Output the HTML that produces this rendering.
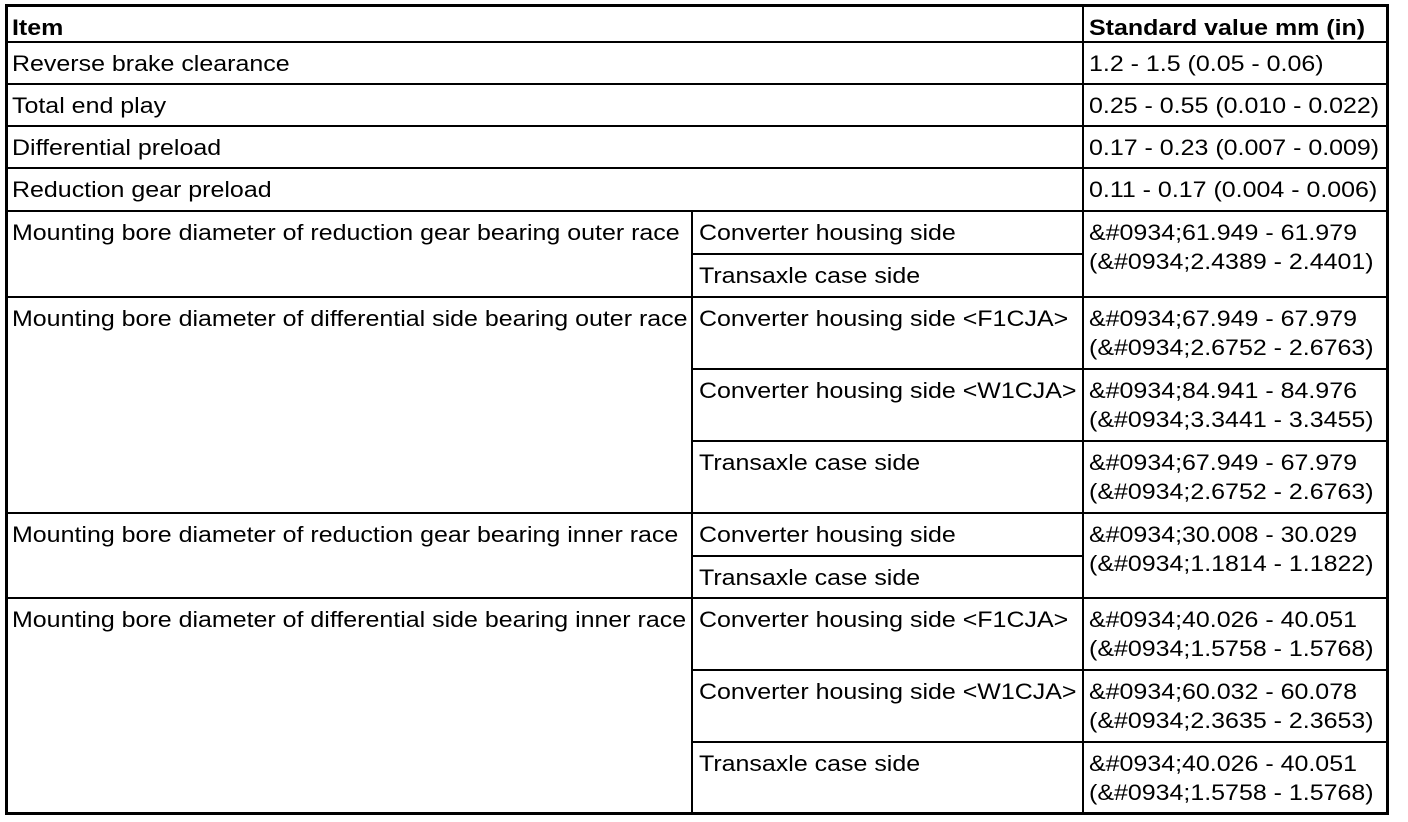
<!DOCTYPE html>
<html><head><meta charset="utf-8"><style>
body{margin:0;width:1408px;height:822px;background:#fff;position:relative;overflow:hidden;font-family:"Liberation Sans",Arial,sans-serif;font-size:22px;color:#000}
.h{position:absolute;height:2px;background:#000}
.v{position:absolute;width:2px;background:#000}
.t{position:absolute;line-height:29px;white-space:nowrap;transform:scaleX(1.135);transform-origin:0 0}
</style></head><body>
<div style="position:absolute;left:5px;top:4px;width:1378px;height:805px;border:3px solid #000"></div>
<div class="v" style="left:1082px;top:4px;height:811px"></div>
<div class="v" style="left:691px;top:211px;height:604px"></div>
<div class="h" style="left:5px;width:1384px;top:41px"></div>
<div class="h" style="left:5px;width:1384px;top:83px"></div>
<div class="h" style="left:5px;width:1384px;top:125px"></div>
<div class="h" style="left:5px;width:1384px;top:167px"></div>
<div class="h" style="left:5px;width:1384px;top:210px"></div>
<div class="h" style="left:691px;width:392px;top:253px"></div>
<div class="h" style="left:5px;width:1384px;top:296px"></div>
<div class="h" style="left:691px;width:698px;top:368px"></div>
<div class="h" style="left:691px;width:698px;top:440px"></div>
<div class="h" style="left:5px;width:1384px;top:512px"></div>
<div class="h" style="left:691px;width:392px;top:555px"></div>
<div class="h" style="left:5px;width:1384px;top:597px"></div>
<div class="h" style="left:691px;width:698px;top:669px"></div>
<div class="h" style="left:691px;width:698px;top:741px"></div>

<div class="t" style="left:12px;top:13px;font-weight:bold">Item</div>
<div class="t" style="left:1089px;top:13px;font-weight:bold">Standard value mm (in)</div>

<div class="t" style="left:12px;top:49px">Reverse brake clearance</div>
<div class="t" style="left:1089px;top:49px">1.2 - 1.5 (0.05 - 0.06)</div>
<div class="t" style="left:12px;top:91px">Total end play</div>
<div class="t" style="left:1089px;top:91px">0.25 - 0.55 (0.010 - 0.022)</div>
<div class="t" style="left:12px;top:133px">Differential preload</div>
<div class="t" style="left:1089px;top:133px">0.17 - 0.23 (0.007 - 0.009)</div>
<div class="t" style="left:12px;top:175px">Reduction gear preload</div>
<div class="t" style="left:1089px;top:175px">0.11 - 0.17 (0.004 - 0.006)</div>

<div class="t" style="left:12px;top:218px">Mounting bore diameter of reduction gear bearing outer race</div>
<div class="t" style="left:699px;top:218px">Converter housing side</div>
<div class="t" style="left:699px;top:261px">Transaxle case side</div>
<div class="t" style="left:1089px;top:218px">&amp;#0934;61.949 - 61.979<br>(&amp;#0934;2.4389 - 2.4401)</div>

<div class="t" style="left:12px;top:304px">Mounting bore diameter of differential side bearing outer race</div>
<div class="t" style="left:699px;top:304px">Converter housing side &lt;F1CJA&gt;</div>
<div class="t" style="left:1089px;top:304px">&amp;#0934;67.949 - 67.979<br>(&amp;#0934;2.6752 - 2.6763)</div>
<div class="t" style="left:699px;top:376px">Converter housing side &lt;W1CJA&gt;</div>
<div class="t" style="left:1089px;top:376px">&amp;#0934;84.941 - 84.976<br>(&amp;#0934;3.3441 - 3.3455)</div>
<div class="t" style="left:699px;top:448px">Transaxle case side</div>
<div class="t" style="left:1089px;top:448px">&amp;#0934;67.949 - 67.979<br>(&amp;#0934;2.6752 - 2.6763)</div>

<div class="t" style="left:12px;top:520px">Mounting bore diameter of reduction gear bearing inner race</div>
<div class="t" style="left:699px;top:520px">Converter housing side</div>
<div class="t" style="left:699px;top:563px">Transaxle case side</div>
<div class="t" style="left:1089px;top:520px">&amp;#0934;30.008 - 30.029<br>(&amp;#0934;1.1814 - 1.1822)</div>

<div class="t" style="left:12px;top:605px">Mounting bore diameter of differential side bearing inner race</div>
<div class="t" style="left:699px;top:605px">Converter housing side &lt;F1CJA&gt;</div>
<div class="t" style="left:1089px;top:605px">&amp;#0934;40.026 - 40.051<br>(&amp;#0934;1.5758 - 1.5768)</div>
<div class="t" style="left:699px;top:677px">Converter housing side &lt;W1CJA&gt;</div>
<div class="t" style="left:1089px;top:677px">&amp;#0934;60.032 - 60.078<br>(&amp;#0934;2.3635 - 2.3653)</div>
<div class="t" style="left:699px;top:749px">Transaxle case side</div>
<div class="t" style="left:1089px;top:749px">&amp;#0934;40.026 - 40.051<br>(&amp;#0934;1.5758 - 1.5768)</div>
</body></html>
